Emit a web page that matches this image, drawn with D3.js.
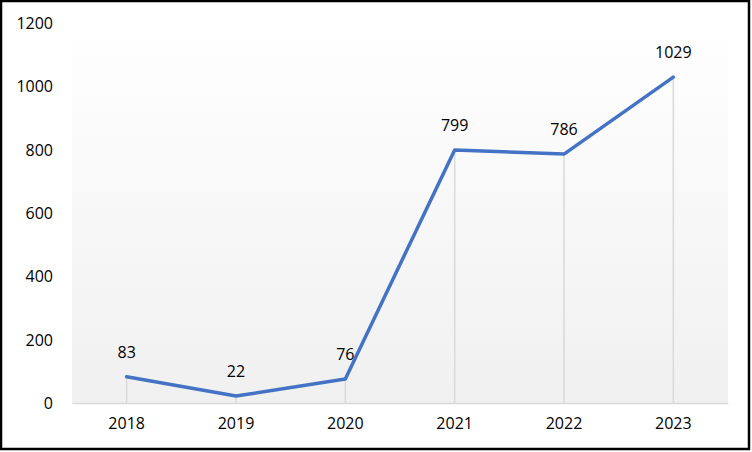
<!DOCTYPE html>
<meta charset="utf-8"/>
<style>
  body { margin: 0; background: #fff; }
  svg text { font-family: "Open Sans", "Noto Sans", sans-serif; font-size: 16px; fill: #000; }
</style>
<svg width="752" height="452"></svg>
<script src="https://d3js.org/d3.v7.min.js"></script>
<script>
// data
var years = ["2018", "2019", "2020", "2021", "2022", "2023"];
var counts = [83, 22, 76, 799, 786, 1029];
var yTicks = [0, 200, 400, 600, 800, 1000, 1200];

var svg = d3.select("svg");

var plotLeft = 72, plotRight = 728, plotTop = 23, plotBottom = 403;

var x = d3.scaleBand().domain(years).range([plotLeft, plotRight]);
var y = d3.scaleLinear().domain([0, 1200]).range([plotBottom, plotTop]);

// plot area gradient
var grad = svg.append("defs").append("linearGradient")
    .attr("id", "bg").attr("x1", 0).attr("y1", 0).attr("x2", 0).attr("y2", 1);
grad.append("stop").attr("offset", "0%").attr("stop-color", "#ffffff");
grad.append("stop").attr("offset", "100%").attr("stop-color", "#f0f0f0");

svg.append("rect")
    .attr("x", plotLeft).attr("y", plotTop)
    .attr("width", plotRight - plotLeft).attr("height", plotBottom - plotTop)
    .attr("fill", "url(#bg)");

// y labels (no gridlines)
var yAxis = svg.append("g")
    .attr("transform", "translate(" + (plotLeft - 19) + ",0)")
    .call(d3.axisLeft(y).tickValues(yTicks).tickFormat(d3.format("d")).tickSize(0).tickPadding(0));
yAxis.select(".domain").remove();
yAxis.selectAll("text").attr("dy", "0.35em").style("font-size", "16px");

// x axis
var xAxis = svg.append("g")
    .attr("transform", "translate(0," + plotBottom + ")")
    .call(d3.axisBottom(x).tickSize(0).tickPadding(15));
xAxis.select(".domain").attr("stroke", "#d9d9d9").attr("stroke-width", 1.5);
xAxis.selectAll("text").style("font-size", "16px");

var cx = function(d, i) { return x(years[i]) + x.bandwidth() / 2; };

// drop lines
svg.append("g").selectAll("line")
    .data(counts).enter().append("line")
    .attr("x1", cx).attr("x2", cx)
    .attr("y1", function(d) { return y(d); })
    .attr("y2", plotBottom)
    .attr("stroke", "#d9d9d9").attr("stroke-width", 1.5);

// line
var line = d3.line()
    .x(function(d, i) { return cx(d, i); })
    .y(function(d) { return y(d); });

svg.append("path")
    .datum(counts)
    .attr("d", line)
    .attr("fill", "none")
    .attr("stroke", "#4472c4")
    .attr("stroke-width", 3.5)
    .attr("stroke-linejoin", "round")
    .attr("stroke-linecap", "round");

// data labels
svg.append("g").selectAll("text")
    .data(counts).enter().append("text")
    .attr("x", cx)
    .attr("y", function(d) { return y(d) - 19; })
    .attr("text-anchor", "middle")
    .text(function(d) { return d; });

// outer border
svg.append("rect")
    .attr("x", 1).attr("y", 1).attr("width", 748).attr("height", 448)
    .attr("fill", "none").attr("stroke", "#000").attr("stroke-width", 2.5);
</script>
